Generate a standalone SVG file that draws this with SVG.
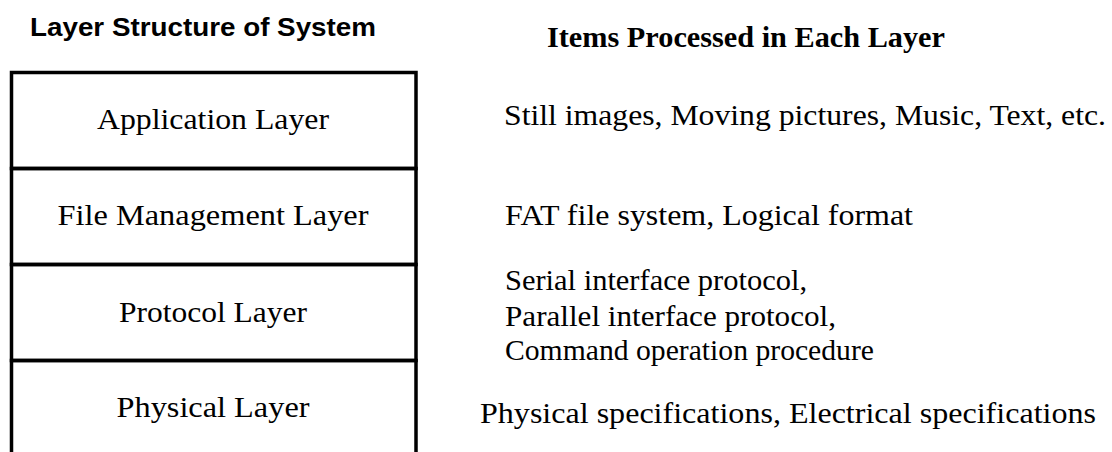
<svg xmlns="http://www.w3.org/2000/svg" width="1112" height="452" viewBox="0 0 1112 452">
  <style>
    .frame { fill: none; stroke: #000; stroke-width: 3.5; stroke-linecap: square; }
    .head-sans { font-family: "Liberation Sans", Arial, sans-serif; font-weight: bold; font-size: 26px; fill: #000; }
    .head-serif { font-family: "Liberation Serif", "Times New Roman", serif; font-weight: bold; font-size: 29px; fill: #000; }
    .layer-name { font-family: "Liberation Serif", "Times New Roman", serif; font-size: 29px; fill: #000; text-anchor: middle; }
    .item { font-family: "Liberation Serif", "Times New Roman", serif; font-size: 29px; fill: #000; }
  </style>
  <rect width="1112" height="452" fill="#fff"/>

  <!-- Column headings -->
  <text id="title-layers" class="head-sans" x="30" y="35.5" textLength="346" lengthAdjust="spacingAndGlyphs">Layer Structure of System</text>
  <text id="title-items" class="head-serif" x="547" y="47" textLength="398" lengthAdjust="spacingAndGlyphs">Items Processed in Each Layer</text>

  <!-- Layer stack: each layer is one cell of the column -->
  <g id="layer-application">
    <rect class="frame" x="11.5" y="72.5" width="404.5" height="96"/>
    <text class="layer-name" x="213" y="129" textLength="232" lengthAdjust="spacingAndGlyphs">Application Layer</text>
  </g>
  <g id="layer-file-management">
    <rect class="frame" x="11.5" y="168.5" width="404.5" height="96"/>
    <text class="layer-name" x="213" y="225" textLength="311" lengthAdjust="spacingAndGlyphs">File Management Layer</text>
  </g>
  <g id="layer-protocol">
    <rect class="frame" x="11.5" y="264.5" width="404.5" height="96"/>
    <text class="layer-name" x="213" y="321.5" textLength="188" lengthAdjust="spacingAndGlyphs">Protocol Layer</text>
  </g>
  <g id="layer-physical">
    <path class="frame" d="M11.5 454 V360.5 H416 V454" stroke-linecap="butt"/>
    <text class="layer-name" x="213" y="417" textLength="193" lengthAdjust="spacingAndGlyphs">Physical Layer</text>
  </g>

  <!-- Items handled by each layer -->
  <g id="items-application">
    <text class="item" x="504" y="125" textLength="602" lengthAdjust="spacingAndGlyphs">Still images, Moving pictures, Music, Text, etc.</text>
  </g>
  <g id="items-file-management">
    <text class="item" x="505" y="225" textLength="408" lengthAdjust="spacingAndGlyphs">FAT file system, Logical format</text>
  </g>
  <g id="items-protocol">
    <text class="item" x="505" y="290" textLength="302" lengthAdjust="spacingAndGlyphs">Serial interface protocol,</text>
    <text class="item" x="505" y="326" textLength="331" lengthAdjust="spacingAndGlyphs">Parallel interface protocol,</text>
    <text class="item" x="505" y="360" textLength="369" lengthAdjust="spacingAndGlyphs">Command operation procedure</text>
  </g>
  <g id="items-physical">
    <text class="item" x="480" y="423" textLength="616" lengthAdjust="spacingAndGlyphs">Physical specifications, Electrical specifications</text>
  </g>
</svg>
